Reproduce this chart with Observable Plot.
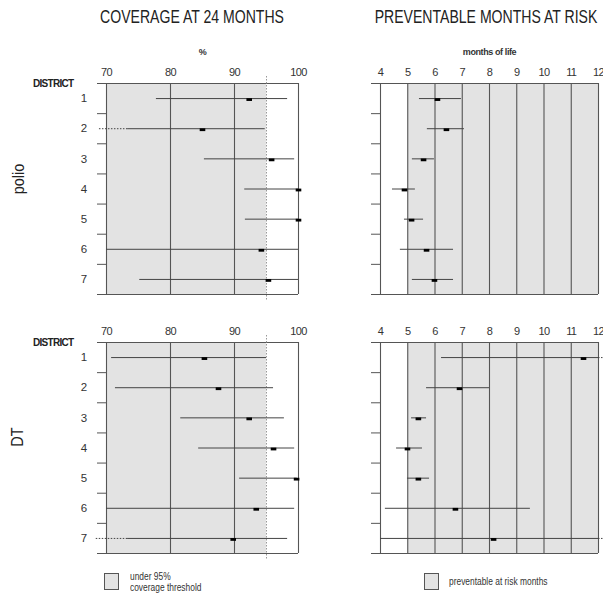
<!DOCTYPE html>
<html>
<head>
<meta charset="utf-8">
<script src="https://cdn.jsdelivr.net/npm/d3@7"></script>
<script src="https://cdn.jsdelivr.net/npm/@observablehq/plot@0.6"></script>
<style>
  html, body { margin: 0; padding: 0; background: #fff; }
  body { width: 603px; height: 596px; position: relative; overflow: hidden;
         font-family: "Liberation Sans", Arial, sans-serif; color: #222; }
  .abs { position: absolute; }
  .title { font-size: 19px; white-space: nowrap; transform: translateX(-50%) scaleX(0.74); transform-origin: 50% 50%; color: #222; }
  .rowlab { font-size: 17px; white-space: nowrap; transform: translate(-50%, -50%) rotate(-90deg) scaleX(0.85); color: #222; }
  .legbox { width: 15px; height: 17px; background: #e3e3e3; border: 1px solid #555; box-sizing: border-box; }
  .legtxt { font-size: 10.5px; line-height: 11px; color: #333; white-space: nowrap; transform: scaleX(0.8); transform-origin: 0 0; }
</style>
</head>
<body>
<div id="root"></div>
<script>
// ---------- data ----------
const districts = [1, 2, 3, 4, 5, 6, 7];
const boundaries = [0.5, 1.5, 2.5, 3.5, 4.5, 5.5, 6.5, 7.5];

const coverageTicks = [70, 80, 90, 100];
const coverageThreshold = 95;
const monthsTicks = [4, 5, 6, 7, 8, 9, 10, 11, 12];
const monthsThreshold = 5;

// polio coverage at 24 months (%)
const polioCovEst = [92.3, 85.0, 95.8, 100, 100, 94.2, 95.3];
const polioCovLo  = [77.8, 73.3, 85.3, 91.6, 91.7, 70.0, 75.2];
const polioCovHi  = [98.3, 94.8, 99.4, 100, 100, 100, 100];
const polioCovLoExt = [null, 68.9, null, null, null, null, null];

// polio preventable months at risk
const polioMonEst = [6.09, 6.42, 5.58, 4.88, 5.14, 5.69, 5.98];
const polioMonLo  = [5.43, 5.72, 5.17, 4.44, 4.88, 4.73, 5.17];
const polioMonHi  = [6.97, 7.08, 5.98, 5.28, 5.58, 6.68, 6.68];

// DT coverage at 24 months (%)
const dtCovEst = [85.3, 87.5, 92.3, 96.1, 99.7, 93.4, 89.8];
const dtCovLo  = [70.8, 71.4, 81.6, 84.4, 90.8, 70.0, 73.3];
const dtCovHi  = [95.0, 96.1, 97.8, 99.4, 99.8, 99.4, 98.3];
const dtCovLoExt = [null, null, null, null, null, null, 68.4];

// DT preventable months at risk
const dtMonEst = [11.45, 6.90, 5.39, 4.99, 5.39, 6.75, 8.15];
const dtMonLo  = [6.24, 5.69, 5.14, 4.59, 4.99, 4.18, 4.0];
const dtMonHi  = [12.0, 8.0, 5.69, 5.54, 5.80, 9.5, 12.0];
const dtMonHiExt = [12.18, null, null, null, null, null, 12.18];

// ---------- helpers ----------
const FONT = '"Liberation Sans", Arial, sans-serif';
const rows = (est, lo, hi, loExt, hiExt) => districts.map((d, i) => ({
  district: d, est: est[i], lo: lo[i], hi: hi[i],
  loExt: loExt ? loExt[i] : null, hiExt: hiExt ? hiExt[i] : null
}));

const barSymbol = { draw(ctx) { ctx.rect(-2.8, -1.4, 5.6, 2.8); } };

function panel({data, domain, ticks, threshold, shadeFrom, shadeTo, label, showLabels, district, top}) {
  const H = 270;
  const isCov = domain[0] === 70;
  const marks = [
    Plot.rect([{a: shadeFrom, b: shadeTo}], {x1: "a", x2: "b", fill: "#e3e3e3"}),
    Plot.ruleX(ticks, {stroke: "#555", strokeWidth: 1.1}),
    Plot.ruleY([0.5, 7.5], {stroke: "#555", strokeWidth: 1.1}),
    Plot.axisY({ticks: boundaries, tickSize: 9, tickFormat: () => "", stroke: "#555", label: null}),
    Plot.axisX({anchor: "top", ticks, tickSize: 0, tickPadding: 8, fontSize: 11, fill: "#333",
      tickFormat: d => String(d), label: label, labelAnchor: "center", labelArrow: "none", labelOffset: 35,
      fontWeight: null})
  ];
  if (showLabels) {
    marks.push(Plot.axisY({ticks: districts, tickSize: 0, tickPadding: 20, fontSize: 11.5, fill: "#333",
      tickFormat: d => String(d), label: null}));
  }
  if (district) {
    marks.push(Plot.text(["DISTRICT"], {frameAnchor: "top-left", dx: -33, textAnchor: "end",
      fontWeight: "bold", fontSize: 10, fill: "#222", lineAnchor: "middle"}));
  }
  if (threshold != null) {
    marks.push(Plot.ruleX([threshold], {stroke: "#999", strokeDasharray: "1.5,1.5", insetTop: -7, insetBottom: -6}));
  }
  marks.push(
    Plot.ruleY(data, {y: "district", x1: "lo", x2: "hi", stroke: "#444", strokeWidth: 1}),
    Plot.ruleY(data.filter(d => d.loExt != null), {y: "district", x1: "loExt", x2: "lo", stroke: "#444", strokeDasharray: "1.5,1.5"}),
    Plot.ruleY(data.filter(d => d.hiExt != null), {y: "district", x1: "hi", x2: "hiExt", stroke: "#444", strokeDasharray: "1.5,1.5"}),
    Plot.dot(data, {x: "est", y: "district", symbol: barSymbol, fill: "#000", stroke: "none", dy: 1})
  );
  const svg = Plot.plot({
    width: isCov ? 310 : 303, height: H,
    marginLeft: isCov ? 106 : 80, marginRight: isCov ? 12 : 5,
    marginTop: top ? 43 : 42, marginBottom: top ? 16 : 17,
    x: {domain, label: null},
    y: {domain: [0.5, 7.5], reverse: true, label: null},
    style: {fontFamily: FONT, fontSize: "11px", background: "transparent", overflow: "visible", letterSpacing: "-0.6px"},
    marks
  });
  d3.select(svg).selectAll("[aria-label='x-axis label'] text").attr("font-weight", "bold").attr("font-size", 9).style("letter-spacing", "-0.4px");
  d3.select(svg).selectAll("[aria-label='text'] text").style("letter-spacing", "-0.7px");
  return svg;
}

const root = document.getElementById("root");
function place(el, x, y) { el.classList.add("abs"); el.style.left = x + "px"; el.style.top = y + "px"; root.appendChild(el); return el; }
function div(cls, html, x, y) { const e = document.createElement("div"); e.className = cls; e.innerHTML = html; return place(e, x, y); }

place(panel({data: rows(polioCovEst, polioCovLo, polioCovHi, polioCovLoExt), domain: [70, 100], ticks: coverageTicks,
  threshold: coverageThreshold, shadeFrom: 70, shadeTo: coverageThreshold, label: "%", showLabels: true, district: true, top: true}), 0, 40);
place(panel({data: rows(polioMonEst, polioMonLo, polioMonHi), domain: [4, 12], ticks: monthsTicks,
  threshold: null, shadeFrom: monthsThreshold, shadeTo: 12, label: "months of life", showLabels: false, district: false, top: true}), 300, 40);
place(panel({data: rows(dtCovEst, dtCovLo, dtCovHi, dtCovLoExt), domain: [70, 100], ticks: coverageTicks,
  threshold: coverageThreshold, shadeFrom: 70, shadeTo: coverageThreshold, label: null, showLabels: true, district: true, top: false}), 0, 300);
place(panel({data: rows(dtMonEst, dtMonLo, dtMonHi, null, dtMonHiExt), domain: [4, 12], ticks: monthsTicks,
  threshold: null, shadeFrom: monthsThreshold, shadeTo: 12, label: null, showLabels: false, district: false, top: false}), 300, 300);

div("title", "COVERAGE AT 24 MONTHS", 192, 6);
div("title", "PREVENTABLE MONTHS AT RISK", 486, 6);
div("rowlab", "polio", 19, 179);
div("rowlab", "DT", 18, 437);

div("legbox", "", 104, 573);
div("legtxt", "under 95%<br>coverage threshold", 130, 571);
div("legbox", "", 424, 573);
div("legtxt", "preventable at risk months", 449, 576);
</script>
</body>
</html>
